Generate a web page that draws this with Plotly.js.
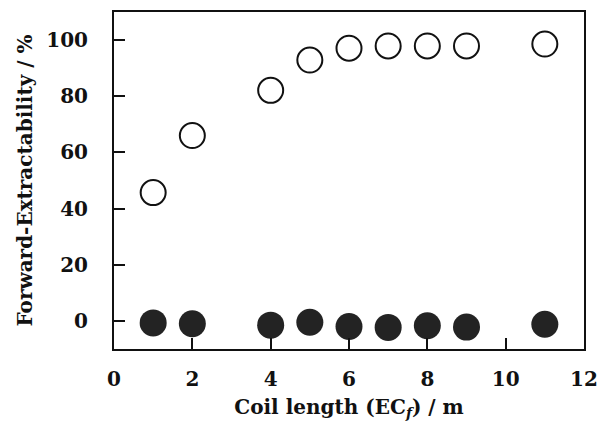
<!DOCTYPE html>
<html>
<head>
<meta charset="utf-8">
<script src="https://cdn.plot.ly/plotly-3.0.1.min.js"></script>
<style>html,body{margin:0;padding:0;background:#fff;}#chart{width:599px;height:423px;}</style>
</head>
<body>
<div id="chart"></div>
<script>
const coilLength = [1, 2, 4, 5, 6, 7, 8, 9, 11];
const forwardExtractability = [45.7, 66, 82.1, 92.9, 97.1, 97.9, 97.9, 97.9, 98.6];
const backExtractability = [-0.7, -1, -1.5, -0.5, -2, -2.3, -1.7, -2.2, -1.2];
const xTicks = [0, 2, 4, 6, 8, 10, 12];
const yTicks = [0, 20, 40, 60, 80, 100];

const fontFam = '"DejaVu Serif", "Liberation Serif", serif';

const traces = [
  {
    x: coilLength, y: forwardExtractability, type: 'scatter', mode: 'markers',
    marker: {symbol: 'circle-open', size: 25, color: '#111', line: {width: 2, color: '#111'}},
    showlegend: false, cliponaxis: false
  },
  {
    x: coilLength, y: backExtractability, type: 'scatter', mode: 'markers',
    marker: {symbol: 'circle', size: 27, color: '#232323', line: {width: 0}},
    showlegend: false, cliponaxis: false
  }
];

const layout = {
  width: 599, height: 423,
  margin: {l: 114, r: 15, t: 12, b: 74},
  paper_bgcolor: '#fff', plot_bgcolor: '#fff',
  font: {family: fontFam, color: '#111'},
  xaxis: {
    range: [0, 12], tickvals: xTicks, ticktext: xTicks.map(String),
    ticks: 'inside', ticklen: 11, tickwidth: 2, tickcolor: '#111',
    showline: true, linewidth: 2, linecolor: '#111', mirror: true,
    showgrid: false, zeroline: false,
    tickfont: {family: fontFam, size: 20, weight: 'bold', color: '#111'},
    ticklabelstandoff: 11,
    title: {text: 'Coil length (EC<sub><i>f</i></sub>) / m', standoff: 10,
            font: {family: fontFam, size: 20, weight: 'bold', color: '#111'}}
  },
  yaxis: {
    range: [-10, 110], tickvals: yTicks, ticktext: yTicks.map(String),
    ticks: 'inside', ticklen: 11, tickwidth: 2, tickcolor: '#111',
    showline: true, linewidth: 2, linecolor: '#111', mirror: true,
    showgrid: false, zeroline: false,
    tickfont: {family: fontFam, size: 20, weight: 'bold', color: '#111'},
    ticklabelstandoff: 20,
    title: {text: 'Forward-Extractability / %', standoff: 8,
            font: {family: fontFam, size: 20, weight: 'bold', color: '#111'}}
  }
};

Plotly.newPlot('chart', traces, layout, {displayModeBar: false, staticPlot: true});
</script>
</body>
</html>
